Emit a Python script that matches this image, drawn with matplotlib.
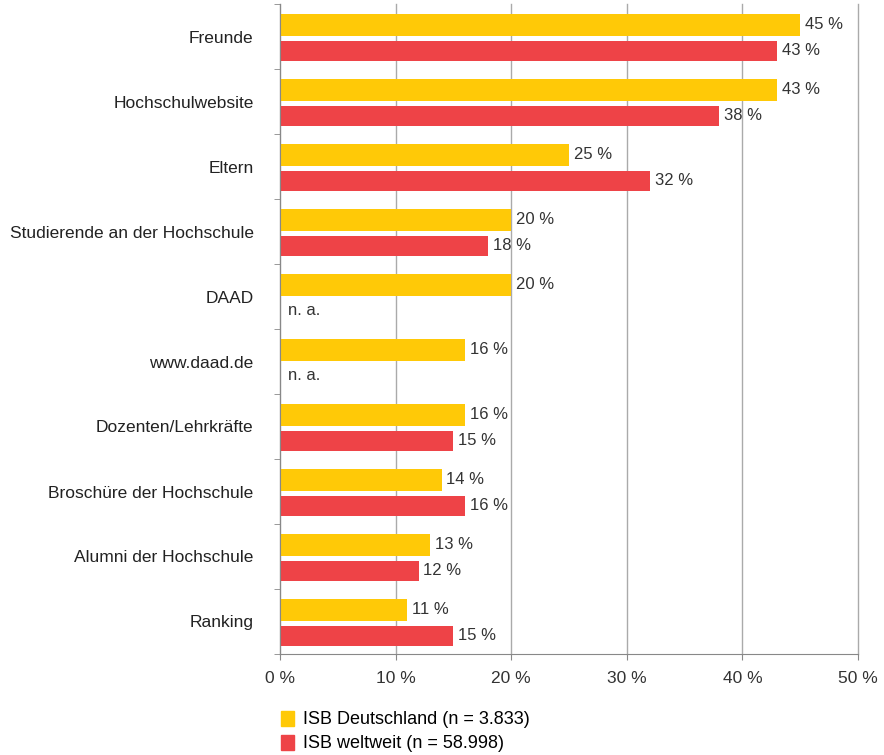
import numpy as np
import matplotlib.pyplot as plt
from matplotlib.patches import Patch

plt.rcParams['font.family'] = ['Liberation Sans Narrow', 'Liberation Sans', 'DejaVu Sans']

categories = ["Freunde", "Hochschulwebsite", "Eltern", "Studierende an der Hochschule",
              "DAAD", "www.daad.de", "Dozenten/Lehrkräfte", "Broschüre der Hochschule",
              "Alumni der Hochschule", "Ranking"]
deutschland = [45, 43, 25, 20, 20, 16, 16, 14, 13, 11]
weltweit = [43, 38, 32, 18, None, None, 15, 16, 12, 15]
series_labels = ["ISB Deutschland (n = 3.833)", "ISB weltweit (n = 58.998)"]
yellow = "#FFC907"
red = "#EE4347"

fig = plt.figure(figsize=(8.84, 7.55), dpi=100)
ax = fig.add_axes([280 / 884, 1 - 654 / 755, 578 / 884, 650 / 755])

y = np.arange(len(categories))
for i, (d, w) in enumerate(zip(deutschland, weltweit)):
    ax.barh(i - 0.18, d, height=0.34, color=yellow)
    ax.text(d + 0.4, i - 0.18, f"{d} %", va="center", ha="left", fontsize=12, color="#333333")
    if w is None:
        ax.text(0.7, i + 0.22, "n. a.", va="center", ha="left", fontsize=12, color="#333333")
    else:
        ax.barh(i + 0.22, w, height=0.31, color=red)
        ax.text(w + 0.4, i + 0.22, f"{w} %", va="center", ha="left", fontsize=12, color="#333333")

ax.set_xlim(0, 50)
ax.set_ylim(len(categories) - 0.5, -0.5)
ax.set_xticks(range(0, 51, 10))
ax.set_xticklabels([f"{v} %" for v in range(0, 51, 10)], fontsize=12.5, color="#333333")
ax.set_yticks(y)
ax.set_yticklabels(categories, fontsize=12.5, color="#222222")
ax.set_yticks(np.arange(-0.5, len(categories), 1), minor=True)
ax.tick_params(axis="y", which="major", length=0, pad=19)
ax.tick_params(axis="y", which="minor", length=4, color="#888888")
ax.tick_params(axis="x", length=4, color="#888888", pad=8)
ax.grid(axis="x", color="#aaaaaa", linewidth=1)
for line in ax.get_xgridlines():
    line.set_clip_on(False)
ax.set_axisbelow(True)
for side in ["top", "right"]:
    ax.spines[side].set_visible(False)
for side in ["left", "bottom"]:
    ax.spines[side].set_color("#888888")

handles = [Patch(color=yellow), Patch(color=red)]
fig.legend(handles, series_labels, loc="upper left", bbox_to_anchor=(268 / 884, 1 - 698 / 755),
           frameon=False, fontsize=13, handlelength=0.75, handleheight=0.9,
           handletextpad=0.5, labelspacing=0.35, borderpad=0.2)

fig.savefig("out.png", dpi=100)
